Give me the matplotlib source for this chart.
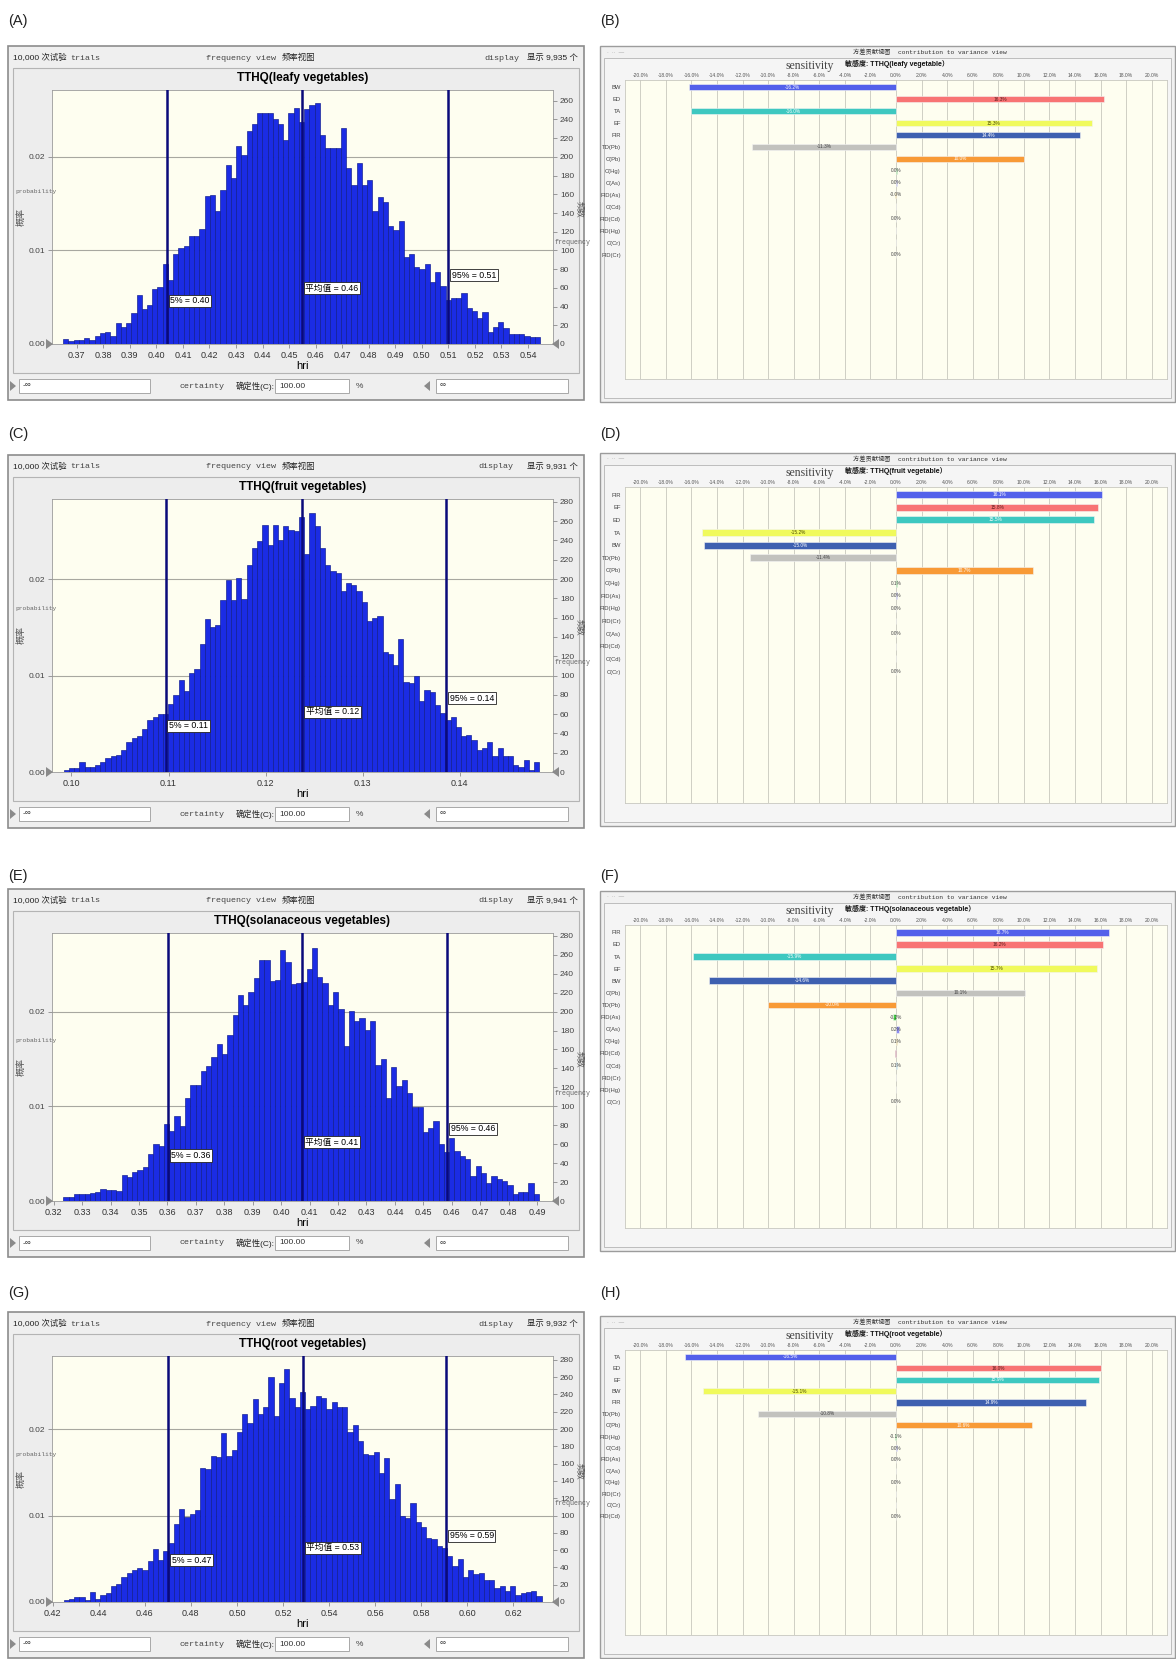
import numpy as np
import matplotlib
matplotlib.use("Agg")
import matplotlib.pyplot as plt
from matplotlib.patches import Rectangle, Polygon

plt.rcParams['font.family'] = ['Liberation Sans', 'Noto Sans CJK SC', 'DejaVu Sans']
MONO = ['Liberation Mono', 'Noto Sans CJK SC', 'DejaVu Sans']

W, H = 1176, 1659

# ---------------- histogram data (bin counts) ----------------
leafy_counts = [5, 3, 4, 4, 6, 4, 9, 12, 13, 9,
                22, 18, 22, 33, 52, 37, 42, 59, 61, 86,
                68, 96, 103, 105, 115, 115, 123, 158, 159, 142,
                165, 191, 177, 212, 202, 228, 235, 247, 247, 247,
                240, 235, 218, 247, 252, 237, 251, 255, 258, 223,
                210, 210, 210, 231, 188, 170, 193, 170, 175, 142,
                157, 152, 126, 122, 131, 93, 96, 82, 80, 86,
                66, 77, 62, 47, 49, 49, 54, 38, 35, 28,
                34, 13, 18, 24, 17, 11, 11, 11, 9, 7, 8]
fruit_counts = [2, 4, 4, 10, 5, 5, 7, 10, 15, 17,
                18, 23, 31, 35, 37, 45, 54, 57, 60, 60,
                70, 80, 95, 84, 103, 107, 133, 159, 150, 152,
                178, 199, 178, 201, 179, 215, 232, 239, 256, 235,
                256, 240, 255, 251, 250, 264, 226, 268, 255, 232,
                215, 208, 206, 188, 196, 194, 188, 176, 157, 160,
                162, 124, 122, 111, 138, 93, 92, 99, 74, 85,
                83, 69, 61, 54, 57, 47, 37, 38, 33, 23,
                25, 31, 17, 25, 17, 17, 7, 5, 12, 2, 10]
solan_counts = [4, 4, 7, 7, 7, 8, 10, 13, 12, 12,
                11, 27, 25, 31, 33, 36, 50, 60, 58, 81,
                74, 90, 79, 109, 123, 122, 137, 143, 152, 166,
                155, 175, 196, 218, 207, 221, 235, 254, 254, 232,
                233, 265, 252, 229, 230, 231, 245, 267, 237, 230,
                207, 221, 203, 164, 201, 190, 193, 181, 190, 144,
                150, 109, 142, 121, 128, 114, 99, 99, 73, 77,
                84, 60, 52, 66, 53, 47, 44, 26, 37, 30,
                19, 26, 23, 21, 17, 7, 10, 10, 19, 7]
root_counts = [2, 4, 6, 6, 2, 11, 3, 8, 10, 18,
               21, 29, 33, 37, 39, 37, 47, 61, 48, 59,
               68, 90, 108, 98, 102, 106, 155, 154, 169, 168,
               196, 169, 176, 197, 217, 207, 235, 217, 226, 260,
               215, 253, 270, 236, 226, 243, 223, 227, 238, 236,
               223, 231, 225, 225, 197, 205, 186, 171, 170, 174,
               149, 167, 119, 137, 100, 97, 115, 93, 87, 74,
               73, 65, 63, 53, 42, 50, 29, 37, 32, 34,
               26, 25, 16, 18, 13, 18, 8, 10, 11, 13, 7]

# first and last bin edge of each histogram
leafy_bins = (0.3649, 0.5445)
fruit_bins = (0.0992, 0.1482)
solan_bins = (0.3234, 0.4907)
root_bins = (0.4247, 0.6324)

# 5%, mean, 95% markers
leafy_marks = [0.4040, 0.4548, 0.5100]
fruit_marks = [0.1097, 0.1238, 0.1386]
solan_marks = [0.3601, 0.4072, 0.4584]
root_marks = [0.4702, 0.5286, 0.5909]
leafy_mark_txt = ['5% = 0.40', '平均值 = 0.46', '95% = 0.51']
fruit_mark_txt = ['5% = 0.11', '平均值 = 0.12', '95% = 0.14']
solan_mark_txt = ['5% = 0.36', '平均值 = 0.41', '95% = 0.46']
root_mark_txt = ['5% = 0.47', '平均值 = 0.53', '95% = 0.59']

leafy_ticks = [0.37, 0.38, 0.39, 0.40, 0.41, 0.42, 0.43, 0.44, 0.45, 0.46,
               0.47, 0.48, 0.49, 0.50, 0.51, 0.52, 0.53, 0.54]
fruit_ticks = [0.10, 0.11, 0.12, 0.13, 0.14]
solan_ticks = [0.32, 0.33, 0.34, 0.35, 0.36, 0.37, 0.38, 0.39, 0.40, 0.41,
               0.42, 0.43, 0.44, 0.45, 0.46, 0.47, 0.48, 0.49]
root_ticks = [0.42, 0.44, 0.46, 0.48, 0.50, 0.52, 0.54, 0.56, 0.58, 0.60, 0.62]

# ---------------- sensitivity (contribution to variance) data ----------------
leafy_vars = ['BW', 'ED', 'TA', 'EF', 'FIR', 'TD(Pb)', 'C(Pb)', 'C(Hg)', 'C(As)',
              'FID(As)', 'C(Cd)', 'FID(Cd)', 'FID(Hg)', 'C(Cr)', 'FID(Cr)']
leafy_sens = [-16.2, 16.3, -16.0, 15.3, 14.4, -11.3, 10.0, 0.08, 0.06, -0.05,
              0.03, 0.02, 0.01, 0.01, 0.01]
leafy_sens_txt = ['-16.2%', '16.3%', '-16.0%', '15.3%', '14.4%', '-11.3%', '10.0%',
                  '0.0%', '0.0%', '-0.0%', '', '0.0%', '', '', '0.0%']

fruit_vars = ['FIR', 'EF', 'ED', 'TA', 'BW', 'TD(Pb)', 'C(Pb)', 'C(Hg)', 'FID(As)',
              'FID(Hg)', 'FID(Cr)', 'C(As)', 'FID(Cd)', 'C(Cd)', 'C(Cr)']
fruit_sens = [16.1, 15.8, 15.5, -15.2, -15.0, -11.4, 10.7, 0.1, 0.04, 0.03,
              0.02, 0.02, 0.01, 0.01, 0.01]
fruit_sens_txt = ['16.1%', '15.8%', '15.5%', '-15.2%', '-15.0%', '-11.4%', '10.7%',
                  '0.1%', '0.0%', '0.0%', '', '0.0%', '', '', '0.0%']

solan_vars = ['FIR', 'ED', 'TA', 'EF', 'BW', 'C(Pb)', 'TD(Pb)', 'FID(As)', 'C(As)',
              'C(Hg)', 'FID(Cd)', 'C(Cd)', 'FID(Cr)', 'FID(Hg)', 'C(Cr)']
solan_sens = [16.7, 16.2, -15.9, 15.7, -14.6, 10.1, -10.0, -0.2, 0.2, 0.1,
              -0.1, 0.1, 0.03, 0.01, 0.01]
solan_sens_txt = ['16.7%', '16.2%', '-15.9%', '15.7%', '-14.6%', '10.1%', '-10.0%',
                  '-0.2%', '0.2%', '0.1%', '', '0.1%', '', '', '0.0%']

root_vars = ['TA', 'ED', 'EF', 'BW', 'FIR', 'TD(Pb)', 'C(Pb)', 'FID(Hg)', 'C(Cd)',
             'FID(As)', 'C(As)', 'C(Hg)', 'FID(Cr)', 'C(Cr)', 'FID(Cd)']
root_sens = [-16.5, 16.0, 15.9, -15.1, 14.9, -10.8, 10.6, -0.1, 0.04, 0.03,
             0.03, 0.02, 0.01, 0.01, 0.01]
root_sens_txt = ['-16.5%', '16.0%', '15.9%', '-15.1%', '14.9%', '-10.8%', '10.6%',
                 '-0.1%', '0.0%', '0.0%', '', '0.0%', '', '', '0.0%']

sens_colors = ['#5361ea', '#f87474', '#3ec8c0', '#f0fa5c', '#3e60b0', '#c2c2be',
               '#f89a36', '#40d040', '#8c8cf0', '#f0c848', '#a02850', '#78c8e8',
               '#98d898', '#c8c8f0', '#f0d8a0']
sens_txt_colors = ['white', '#5a1a1a', 'white', '#4a4a00', 'white', '#404040', 'white']

# ---------------- figure ----------------
fig = plt.figure(figsize=(W / 100, H / 100), dpi=100)
bg = fig.add_axes([0, 0, 1, 1], zorder=0)
bg.set_xlim(0, W)
bg.set_ylim(H, 0)
bg.axis('off')
over = fig.add_axes([0, 0, 1, 1], zorder=6)
over.set_xlim(0, W)
over.set_ylim(H, 0)
over.axis('off')
over.patch.set_alpha(0)


def px_axes(x0, y0, x1, y1, z=2):
    return fig.add_axes([x0 / W, 1 - y1 / H, (x1 - x0) / W, (y1 - y0) / H], zorder=z)


def input_box(x0, x1, yc, txt):
    bg.add_patch(Rectangle((x0, yc - 7), x1 - x0, 14, fc='white', ec='#a8a8a8', lw=0.7))
    bg.text(x0 + 4, yc, txt, fontsize=6, va='center', color='#333333')


def histogram_panel(top, bot, counts, bins, xlim, ticks, ymax, rticks,
                    marks, mark_txt, title, shown, disp_x):
    bg.add_patch(Rectangle((8, top), 576, bot - top, fc='#efefef', ec='#8c8c8c', lw=1.2))
    bg.add_patch(Rectangle((13, top + 22), 566, bot - top - 49, fc='#ededed',
                           ec='#b4b4b4', lw=0.8))
    ty = top + 12
    bg.text(13, ty, '10,000 次试验', fontsize=6, va='center', color='#222222')
    bg.text(70, ty, 'trials', family=MONO, fontsize=6, va='center', color='#444444')
    bg.text(206, ty, 'frequency view', family=MONO, fontsize=6, va='center', color='#444444')
    bg.text(282, ty, '频率视图', fontsize=6, va='center', color='#222222')
    bg.text(disp_x, ty, 'display', family=MONO, fontsize=6, va='center', color='#444444')
    bg.text(578, ty, f'显示 {shown} 个', fontsize=6, va='center', ha='right', color='#222222')

    px0, px1 = 52, 553
    py0, py1 = top + 44, bot - 56
    bg.text((px0 + px1) / 2, top + 32, title, ha='center', va='center',
            fontsize=8.5, fontweight='bold')

    ax = px_axes(px0, py0, px1, py1)
    ax.set_facecolor('#fefef0')
    edges = np.linspace(bins[0], bins[1], len(counts) + 1)
    ax.bar(edges[:-1], counts, width=np.diff(edges), align='edge', color='#1b2ce4',
           edgecolor='#0d1a8c', linewidth=0.45, zorder=2)
    ax.set_xlim(xlim)
    ax.set_ylim(0, ymax)
    for g in (100, 200):
        ax.axhline(g, color='#a8a8a0', lw=0.8, zorder=1)
    ax.set_xticks(ticks)
    ax.set_xticklabels([f'{t:.2f}' for t in ticks])
    ax.set_yticks([0, 100, 200])
    ax.set_yticklabels(['0.00', '0.01', '0.02'])
    ax.tick_params(axis='x', labelsize=6.5, length=3, width=0.5, color='#777777',
                   labelcolor='#333333', pad=2)
    ax.tick_params(axis='y', labelsize=6, length=3, width=0.5, color='#777777',
                   labelcolor='#444444', pad=2)
    ax.set_xlabel('hri', fontsize=8, labelpad=1)
    for s in ax.spines.values():
        s.set_color('#9a9a9a')
        s.set_linewidth(0.6)

    ax2 = ax.twinx()
    ax2.set_ylim(0, ymax)
    ax2.set_yticks(rticks)
    ax2.tick_params(axis='y', labelsize=6, length=3, width=0.5, color='#777777',
                    labelcolor='#444444', pad=2)
    for s in ax2.spines.values():
        s.set_visible(False)

    for xm, txt, yf in zip(marks, mark_txt, (0.17, 0.22, 0.27)):
        ax.axvline(xm, color='#0a0a7a', lw=1.8, zorder=3)
        ax.annotate(txt, xy=(xm, yf), xycoords=('data', 'axes fraction'),
                    xytext=(2.5, 0), textcoords='offset points', ha='left', va='center',
                    fontsize=6.3, zorder=4,
                    bbox=dict(boxstyle='square,pad=0.18', fc='white', ec='#222222', lw=0.6))

    h = py1 - py0
    over.text(15, py0 + 0.40 * h, 'probability', family=MONO, fontsize=4.5,
              color='#666666', va='center')
    over.text(21, py0 + 0.50 * h, '概率', fontsize=6.5, rotation=90, color='#555555',
              ha='center', va='center')
    over.text(579, py0 + 0.47 * h, '频数', fontsize=6, rotation=270, color='#555555',
              ha='center', va='center')
    over.text(555, py0 + 0.60 * h, 'frequency', family=MONO, fontsize=4.8,
              color='#666666', va='center')
    over.add_patch(Polygon([[46, py1 - 5], [46, py1 + 5], [53, py1]], closed=True,
                           fc='#8a8a8a', ec='none'))
    over.add_patch(Polygon([[559, py1 - 5], [559, py1 + 5], [552, py1]], closed=True,
                           fc='#8a8a8a', ec='none'))

    cy = bot - 14
    bg.add_patch(Polygon([[10, cy - 5], [10, cy + 5], [16, cy]], closed=True,
                         fc='#8a8a8a', ec='none'))
    input_box(19, 150, cy, '-∞')
    bg.text(180, cy, 'certainty', family=MONO, fontsize=6, va='center', color='#444444')
    bg.text(236, cy, '确定性(C):', fontsize=6, va='center', color='#222222')
    input_box(275, 349, cy, '100.00')
    bg.text(356, cy, '%', fontsize=6, va='center', color='#444444')
    bg.add_patch(Polygon([[430, cy - 5], [430, cy + 5], [424, cy]], closed=True,
                         fc='#8a8a8a', ec='none'))
    input_box(436, 568, cy, '∞')


def sensitivity_panel(top, bot, names, vals, txts, subtitle):
    bg.add_patch(Rectangle((600, top), 575, bot - top, fc='#f1f1f1', ec='#9c9c9c', lw=1.0))
    bg.add_patch(Rectangle((604, top + 12), 567, bot - top - 16, fc='#f5f5f5',
                           ec='#b4b4b4', lw=0.6))
    bg.text(607, top + 6, '·  ··  —', fontsize=4, color='#999999', va='center')
    bg.text(930, top + 6, '方差贡献视图  contribution to variance view', family=MONO,
            fontsize=4.5, ha='center', va='center', color='#333333')
    bg.text(786, top + 20, 'sensitivity', family=['Liberation Serif'], fontsize=8.5,
            va='center', color='#444444')
    bg.text(845, top + 18, f'敏感度: {subtitle}', fontsize=5, fontweight='bold',
            va='center', color='#111111')

    ax = px_axes(625, top + 34, 1167, bot - 23)
    ax.set_facecolor('#fefef0')
    rows = np.arange(len(names))
    ax.barh(rows, vals, height=0.55, color=sens_colors[:len(names)],
            edgecolor='#f4f4f4', linewidth=0.4, zorder=2)
    ax.set_xlim(-21.2, 21.2)
    ax.set_ylim(24.4, -0.6)
    xt = np.arange(-20, 21, 2)
    ax.set_xticks(xt)
    ax.set_xticklabels([f'{v:.1f}%' for v in xt])
    ax.xaxis.tick_top()
    ax.set_yticks(rows)
    ax.set_yticklabels(names)
    ax.tick_params(axis='x', labelsize=3.6, length=0, pad=1.5, labelcolor='#555555')
    ax.tick_params(axis='y', labelsize=4.2, length=0, pad=3, labelcolor='#444444')
    ax.grid(axis='x', color='#cfcfc4', lw=0.7, zorder=0)
    ax.set_axisbelow(True)
    for s in ax.spines.values():
        s.set_color('#c8c8c0')
        s.set_linewidth(0.6)
    for i, (v, t) in enumerate(zip(vals, txts)):
        if not t:
            continue
        if abs(v) > 1:
            c = sens_txt_colors[i] if i < len(sens_txt_colors) else '#333333'
            ax.text(v / 2, i, t, ha='center', va='center', fontsize=3.4, color=c, zorder=3)
        else:
            ax.text(0, i, t, ha='center', va='center', fontsize=3.4, color='#444444', zorder=3)


# panel letters
for lab, x, y in [('(A)', 8, 21), ('(B)', 600, 21), ('(C)', 8, 434), ('(D)', 600, 434),
                  ('(E)', 8, 876), ('(F)', 600, 876), ('(G)', 8, 1293), ('(H)', 600, 1293)]:
    bg.text(x, y, lab, fontsize=10.5, va='center', color='#222222')

histogram_panel(46, 400, leafy_counts, leafy_bins, (0.3607, 0.5494), leafy_ticks, 271.5,
                np.arange(0, 261, 20), leafy_marks, leafy_mark_txt,
                'TTHQ(leafy vegetables)', '9,935', 484)
histogram_panel(455, 828, fruit_counts, fruit_bins, (0.0980, 0.1496), fruit_ticks, 283,
                np.arange(0, 281, 20), fruit_marks, fruit_mark_txt,
                'TTHQ(fruit vegetables)', '9,931', 478)
histogram_panel(889, 1257, solan_counts, solan_bins, (0.3194, 0.4956), solan_ticks, 283,
                np.arange(0, 281, 20), solan_marks, solan_mark_txt,
                'TTHQ(solanaceous vegetables)', '9,941', 478)
histogram_panel(1312, 1658, root_counts, root_bins, (0.4197, 0.6373), root_ticks, 284.5,
                np.arange(0, 281, 20), root_marks, root_mark_txt,
                'TTHQ(root vegetables)', '9,932', 478)

sensitivity_panel(46, 402, leafy_vars, leafy_sens, leafy_sens_txt, 'TTHQ(leafy vegetable）')
sensitivity_panel(453, 826, fruit_vars, fruit_sens, fruit_sens_txt, 'TTHQ(fruit vegetable）')
sensitivity_panel(891, 1251, solan_vars, solan_sens, solan_sens_txt,
                  'TTHQ(solanaceous vegetable）')
sensitivity_panel(1316, 1658, root_vars, root_sens, root_sens_txt, 'TTHQ(root vegetable）')

fig.savefig('out.png', dpi=100, facecolor='white')
